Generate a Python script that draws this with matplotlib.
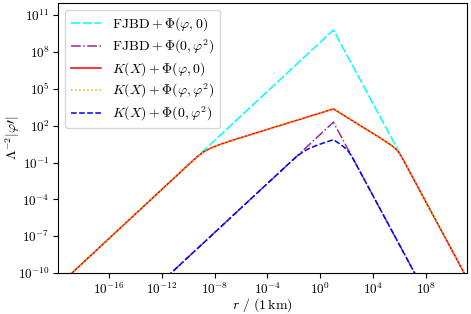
import numpy as np
import matplotlib
matplotlib.use("Agg")
import matplotlib.pyplot as plt
from matplotlib import ticker

plt.rcParams['mathtext.fontset'] = 'cm'
plt.rcParams['font.family'] = ['DejaVu Serif']
plt.rcParams['font.size'] = 10

# values, as log10 of r [km] and log10 of Lambda^-2 |phi'|
log_r_fjbd = [-20, 1.0, 11.2]
log_phi_fjbd_lin = [-11.2, 9.8, -10.6]
log_phi_fjbd_quad = [-18.71, 2.29, -18.11]

log_r_kx_lin = [-20, -9.8, -9.3, -8.8, -8.3, -7.8, -7.3, -6.8, -5.8, 1.0,
                4.4, 4.9, 5.15, 5.4, 5.65, 5.9, 6.15, 6.4, 11.2]
log_phi_kx_lin = [-11.2, -1.0, -0.52, -0.11, 0.17, 0.39, 0.58, 0.76, 1.10, 3.37,
                  1.10, 0.76, 0.58, 0.39, 0.17, -0.11, -0.52, -1.0, -10.6]

log_r_kx_quad = [-20, -2.29, -1.79, -1.29, -0.79, -0.29, 0.21, 0.71, 1.0,
                 1.145, 1.395, 1.645, 1.895, 2.145, 2.395, 2.645, 11.2]
log_phi_kx_quad = [-18.71, -1.0, -0.52, -0.11, 0.17, 0.39, 0.58, 0.76, 0.86,
                   0.76, 0.58, 0.39, 0.17, -0.11, -0.52, -1.0, -18.11]

labels = [r'$\mathrm{FJBD} + \Phi(\varphi, 0)$',
          r'$\mathrm{FJBD} + \Phi(0, \varphi^2)$',
          r'$K(X) + \Phi(\varphi, 0)$',
          r'$K(X) + \Phi(\varphi, \varphi^2)$',
          r'$K(X) + \Phi(0, \varphi^2)$']

x_ticks = [-16, -12, -8, -4, 0, 4, 8]
y_ticks = [-10, -7, -4, -1, 2, 5, 8, 11]

def p10(a):
    return 10.0 ** np.array(a)

fig = plt.figure(figsize=(4.71, 3.14), dpi=100)
ax = fig.add_axes([58/471, 1 - 273/314, (467 - 58)/471, (273 - 3)/314])

ax.plot(p10(log_r_fjbd), p10(log_phi_fjbd_lin), color='cyan', ls=(0, (6, 1.6)), lw=1.1, label=labels[0])
ax.plot(p10(log_r_fjbd), p10(log_phi_fjbd_quad), color='#9a2a9a', ls='-.', lw=1.1, label=labels[1])
ax.plot(p10(log_r_kx_lin), p10(log_phi_kx_lin), color='red', ls='-', lw=1.1, label=labels[2])
ax.plot(p10(log_r_kx_lin), p10(log_phi_kx_lin), color='orange', ls=':', lw=1.1, label=labels[3])
ax.plot(p10(log_r_kx_quad), p10(log_phi_kx_quad), color='blue', ls='--', lw=1.1, label=labels[4])

ax.set_xscale('log')
ax.set_yscale('log')
ax.set_xlim(1.4e-20, 1.3e11)
ax.set_ylim(1e-10, 1e12)

ax.xaxis.set_major_locator(ticker.FixedLocator([10.0**k for k in x_ticks]))
ax.yaxis.set_major_locator(ticker.FixedLocator([10.0**k for k in y_ticks]))
ax.xaxis.set_minor_locator(ticker.NullLocator())
ax.yaxis.set_minor_locator(ticker.NullLocator())
fmt = ticker.FuncFormatter(lambda v, pos: r'$10^{%d}$' % round(np.log10(v)))
ax.xaxis.set_major_formatter(fmt)
ax.yaxis.set_major_formatter(fmt)
ax.tick_params(labelsize=9.5, length=3.5, pad=2.5)

ax.set_xlabel(r'$r\ /\ (1\,\mathrm{km})$', fontsize=10, labelpad=0)
ax.set_ylabel(r'$\Lambda^{-2}|\varphi\prime|$', fontsize=10)
ax.yaxis.set_label_coords(-0.088, 0.5)

ax.legend(loc='upper left', fontsize=10, handlelength=2.2, labelspacing=0.3,
          borderaxespad=0.5)

fig.savefig('out.png', dpi=100)
